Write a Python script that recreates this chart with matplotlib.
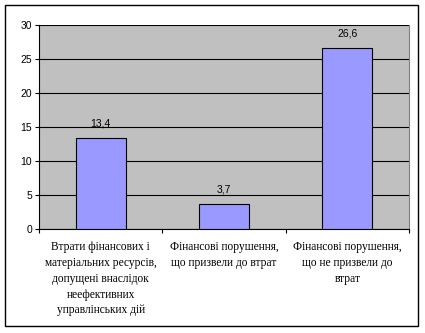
import matplotlib
matplotlib.use("Agg")
import matplotlib.pyplot as plt
from matplotlib.patches import Rectangle

categories = [
    "Втрати фінансових і\nматеріальних ресурсів,\nдопущені внаслідок\nнеефективних\nуправлінських дій",
    "Фінансові порушення,\nщо призвели до втрат",
    "Фінансові порушення,\nщо не призвели до\nвтрат",
]
values = [13.4, 3.7, 26.6]
value_labels = ["13,4", "3,7", "26,6"]
yticks = [0, 5, 10, 15, 20, 25, 30]

fig = plt.figure(figsize=(4.25, 3.33), dpi=100)
fig.patch.set_facecolor("white")
fig.patches.append(Rectangle((5/425, 1-326/333), 413/425, 321/333, transform=fig.transFigure,
                             fill=False, edgecolor="black", linewidth=1.0))

ax = fig.add_axes([39/425, 1-229/333, 370/425, 204/333])
ax.set_facecolor("#C0C0C0")
x = list(range(len(values)))
ax.bar(x, values, width=0.405, color="#9999FF", edgecolor="black", linewidth=0.8, zorder=3)
ax.set_xlim(-0.5, 2.5)
ax.set_ylim(0, 30)
ax.set_yticks(yticks)
ax.set_yticklabels([str(t) for t in yticks], fontfamily="Liberation Sans", fontsize=7.5)
for t in yticks:
    ax.axhline(t, color="black", linewidth=0.8, zorder=1)
ax.set_xticks([-0.5, 0.5, 1.5, 2.5])
ax.set_xticklabels([])
ax.tick_params(axis="both", direction="out", length=3, width=0.8, color="black")
ax.tick_params(axis="y", pad=2)
for i, lab in enumerate(categories):
    ax.text(i, -0.06, lab, transform=ax.get_xaxis_transform(), ha="center", va="top",
            fontfamily="Liberation Serif", fontsize=8.3, linespacing=1.42)
for i, (v, lab) in enumerate(zip(values, value_labels)):
    ax.annotate(lab, (i, v), xytext=(0, 7), textcoords="offset points", ha="center", va="bottom",
                fontfamily="Liberation Sans", fontsize=7.5)
for s in ["top"]:
    ax.spines[s].set_visible(False)
ax.spines["right"].set_color("#808080")
ax.spines["left"].set_linewidth(0.8)
ax.spines["bottom"].set_linewidth(0.8)

fig.savefig("out.png", dpi=100)
